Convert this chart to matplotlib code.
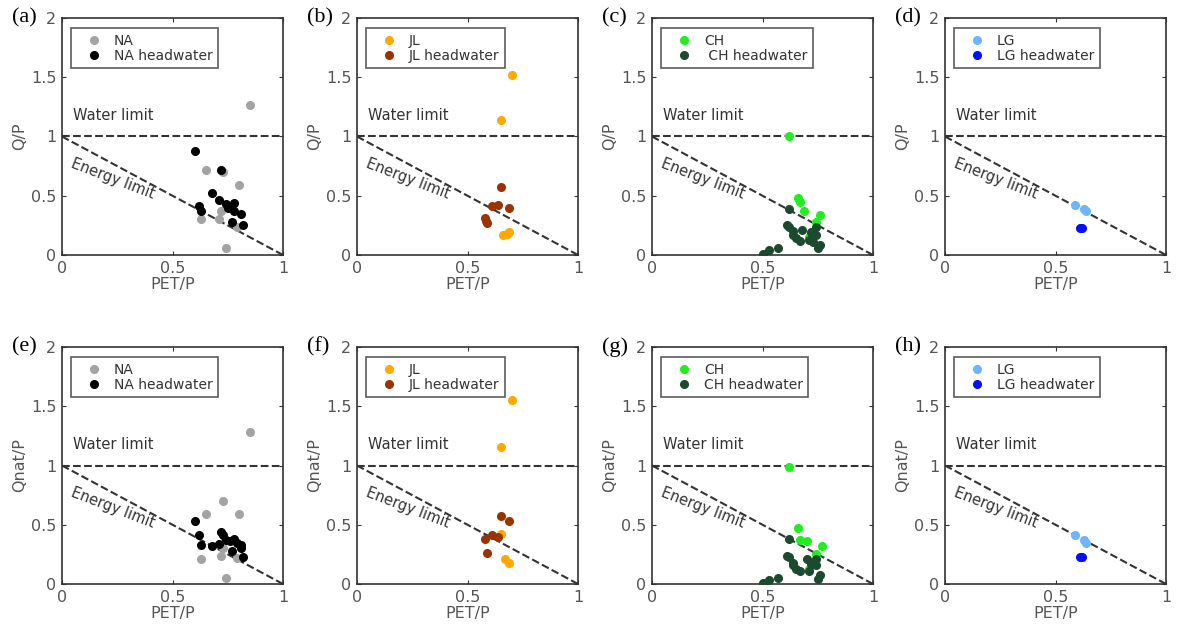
import matplotlib.pyplot as plt

# ---- data (PET/P, Q/P and Qnat/P) ----
# (a) NA, Q/P
na_pet = [0.85, 0.65, 0.80, 0.73, 0.72, 0.63, 0.71, 0.74, 0.79]
na_q = [1.27, 0.72, 0.59, 0.70, 0.37, 0.30, 0.30, 0.06, 0.24]
na_hw_pet = [0.60, 0.72, 0.68, 0.71, 0.74, 0.62, 0.63, 0.78, 0.78, 0.81, 0.77, 0.82, 0.75]
na_hw_q = [0.88, 0.72, 0.52, 0.46, 0.43, 0.41, 0.37, 0.44, 0.37, 0.35, 0.28, 0.25, 0.40]
# (b) JL, Q/P
jl_pet = [0.70, 0.65, 0.66, 0.69, 0.68]
jl_q = [1.52, 1.14, 0.17, 0.19, 0.18]
jl_hw_pet = [0.65, 0.64, 0.61, 0.69, 0.58, 0.59, 0.585]
jl_hw_q = [0.57, 0.42, 0.41, 0.40, 0.31, 0.27, 0.29]
# (c) CH, Q/P
ch_pet = [0.62, 0.66, 0.67, 0.69, 0.76, 0.74, 0.71]
ch_q = [1.00, 0.48, 0.45, 0.37, 0.34, 0.28, 0.15]
ch_hw_pet = [0.62, 0.61, 0.62, 0.64, 0.64, 0.65, 0.67, 0.68, 0.74, 0.74, 0.71,
             0.72, 0.76, 0.75, 0.57, 0.53, 0.50, 0.73]
ch_hw_q = [0.39, 0.25, 0.24, 0.20, 0.17, 0.14, 0.12, 0.21, 0.24, 0.17, 0.13,
           0.19, 0.085, 0.06, 0.06, 0.04, 0.01, 0.11]
# (d) LG, Q/P
lg_pet = [0.59, 0.63, 0.64]
lg_q = [0.42, 0.39, 0.37]
lg_hw_pet = [0.61, 0.62]
lg_hw_q = [0.23, 0.23]

# (e) NA, Qnat/P
na_pet2 = [0.85, 0.73, 0.65, 0.80, 0.63, 0.72, 0.74, 0.73, 0.79]
na_qnat = [1.28, 0.70, 0.59, 0.59, 0.21, 0.24, 0.05, 0.30, 0.22]
na_hw_pet2 = [0.60, 0.62, 0.63, 0.68, 0.71, 0.72, 0.73, 0.74, 0.78, 0.79, 0.81, 0.81, 0.77, 0.82, 0.76]
na_hw_qnat = [0.53, 0.41, 0.33, 0.32, 0.34, 0.44, 0.41, 0.37, 0.38, 0.35, 0.33, 0.30, 0.28, 0.23, 0.36]
# (f) JL, Qnat/P
jl_pet2 = [0.70, 0.65, 0.65, 0.67, 0.69]
jl_qnat = [1.55, 1.16, 0.42, 0.21, 0.18]
jl_hw_pet2 = [0.65, 0.69, 0.61, 0.64, 0.58, 0.59]
jl_hw_qnat = [0.57, 0.53, 0.41, 0.40, 0.38, 0.26]
# (g) CH, Qnat/P
ch_pet2 = [0.62, 0.66, 0.67, 0.70, 0.77, 0.74, 0.71]
ch_qnat = [0.99, 0.47, 0.37, 0.36, 0.32, 0.25, 0.13]
ch_hw_pet2 = [0.62, 0.61, 0.62, 0.64, 0.64, 0.65, 0.67, 0.70, 0.74, 0.74, 0.71,
              0.76, 0.75, 0.57, 0.53, 0.50, 0.72]
ch_hw_qnat = [0.38, 0.24, 0.23, 0.18, 0.16, 0.13, 0.11, 0.21, 0.21, 0.16, 0.11,
              0.08, 0.04, 0.05, 0.03, 0.005, 0.17]
# (h) LG, Qnat/P
lg_pet2 = [0.59, 0.63, 0.64]
lg_qnat = [0.41, 0.37, 0.35]
lg_hw_pet2 = [0.61, 0.62]
lg_hw_qnat = [0.23, 0.23]

regions = ["NA", "JL", "CH", "LG"]
colors = {"NA": ("#a3a3a3", "#000000"), "JL": ("#ffa800", "#9a3300"),
          "CH": ("#1fee1f", "#1b4a2e"), "LG": ("#6eb4ff", "#0010ff")}
top = [(na_pet, na_q, na_hw_pet, na_hw_q), (jl_pet, jl_q, jl_hw_pet, jl_hw_q),
       (ch_pet, ch_q, ch_hw_pet, ch_hw_q), (lg_pet, lg_q, lg_hw_pet, lg_hw_q)]
bottom = [(na_pet2, na_qnat, na_hw_pet2, na_hw_qnat), (jl_pet2, jl_qnat, jl_hw_pet2, jl_hw_qnat),
          (ch_pet2, ch_qnat, ch_hw_pet2, ch_hw_qnat), (lg_pet2, lg_qnat, lg_hw_pet2, lg_hw_qnat)]
letters = ["(a)", "(b)", "(c)", "(d)", "(e)", "(f)", "(g)", "(h)"]

W, H = 1178, 632
lefts = [62, 357, 652, 945]
tops = [18, 347]
aw, ah = 221, 237

fig = plt.figure(figsize=(W / 100, H / 100), dpi=100)
edge = "#333333"
tick_c = "#555555"

for r, (rowdata, ylab) in enumerate([(top, "Q/P"), (bottom, "Qnat/P")]):
    for c, reg in enumerate(regions):
        ax = fig.add_axes([lefts[c] / W, 1 - (tops[r] + ah) / H, aw / W, ah / H])
        px, py, hx, hy = rowdata[c]
        c1, c2 = colors[reg]
        hw_label = (" " if (reg == "CH" and r == 0) else "") + reg + " headwater"
        ax.plot(px, py, "o", ms=5.5, color=c1, mec=c1, label=reg, zorder=3)
        ax.plot(hx, hy, "o", ms=5.5, color=c2, mec=c2, label=hw_label, zorder=4)
        ax.plot([0, 1], [1, 1], "--", color=edge, lw=1.5, zorder=2)
        ax.plot([0, 1], [1, 0], "--", color=edge, lw=1.5, zorder=2)
        ax.text(0.05, 1.18, "Water limit", fontsize=10.5, color=edge, va="center")
        ax.text(0.23, 0.64, "Energy limit", fontsize=10.5, color=edge,
                rotation=-21, ha="center", va="center")
        ax.set_xlim(0, 1)
        ax.set_ylim(0, 2)
        ax.set_xticks([0, 0.5, 1])
        ax.set_xticklabels(["0", "0.5", "1"])
        ax.set_yticks([0, 0.5, 1, 1.5, 2])
        ax.set_yticklabels(["0", "0.5", "1", "1.5", "2"])
        ax.tick_params(direction="in", top=True, right=True, length=3,
                       labelsize=11.5, labelcolor=tick_c, color=edge, pad=4)
        for s in ax.spines.values():
            s.set_color(edge)
            s.set_linewidth(1.2)
        ax.set_xlabel("PET/P", fontsize=11.5, color=tick_c, labelpad=1)
        ax.set_ylabel(ylab, fontsize=11.5, color=tick_c, labelpad=3)
        leg = ax.legend(loc="upper left", bbox_to_anchor=(0.04, 0.958), fontsize=10,
                        frameon=True, fancybox=False, handletextpad=0.1,
                        borderpad=0.4, labelspacing=0.1, handlelength=2.6,
                        borderaxespad=0, labelcolor="#333333")
        leg.get_frame().set_edgecolor(edge)
        leg.get_frame().set_linewidth(1.2)
        ax.text(-0.226, 1.0, letters[r * 4 + c], transform=ax.transAxes,
                fontsize=16, family="Liberation Serif", va="center", ha="left")

fig.savefig("out.png", dpi=100)
